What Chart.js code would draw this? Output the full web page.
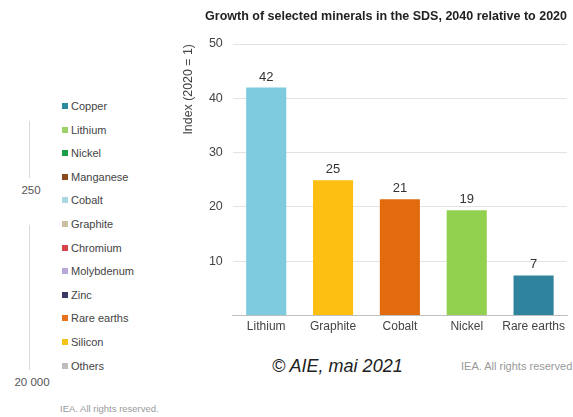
<!DOCTYPE html>
<html>
<head>
<meta charset="utf-8">
<script src="https://cdn.jsdelivr.net/npm/chart.js@4"></script>
<style>
  html, body { margin: 0; padding: 0; background: #fff; }
  body { width: 573px; height: 417px; position: relative; overflow: hidden; font-family: "Liberation Sans", Arial, sans-serif; }
  #wrap { position: absolute; left: 175px; top: 0; width: 398px; height: 344px; }
  .vline { position: absolute; left: 29px; width: 1px; background: #d9d9d9; }
  .axisnum { position: absolute; font-size: 11.5px; color: #555; transform: translateX(-50%); white-space: nowrap; }
  #legend { position: absolute; left: 62px; top: 99px; }
  .item { height: 23.6px; font-size: 11px; color: #444; line-height: 14px; white-space: nowrap; }
  .item span { display: inline-block; width: 6px; height: 6px; margin-right: 3px; vertical-align: 1px; }
  .note { position: absolute; color: #999; white-space: nowrap; }
  #copy { position: absolute; left: 272px; top: 356px; font-size: 18px; font-style: italic; color: #222; white-space: nowrap; }
</style>
</head>
<body>
<!-- bout de légende d'un autre graphique, à gauche -->
<div class="vline" style="top:121px;height:57px"></div>
<div class="axisnum" style="left:31px;top:184px">250</div>
<div class="vline" style="top:225px;height:145px"></div>
<div class="axisnum" style="left:32px;top:376px">20 000</div>
<div id="legend"></div>
<div class="note" style="left:60px;top:403px;font-size:9.5px">IEA. All rights reserved.</div>

<div id="wrap"><canvas id="chart"></canvas></div>

<div id="copy">© AIE, mai 2021</div>
<div class="note" style="left:461px;top:360px;font-size:11px">IEA. All rights reserved</div>

<script>
const legendNames = ['Copper', 'Lithium', 'Nickel', 'Manganese', 'Cobalt', 'Graphite', 'Chromium', 'Molybdenum', 'Zinc', 'Rare earths', 'Silicon', 'Others'];
const legendColors = ['#2a8a9e', '#9fd36a', '#1a9e4a', '#8b4a1c', '#a9d8e2', '#c9c0a2', '#d9434e', '#b8a8da', '#3b3a66', '#e8731e', '#f7c21a', '#bdbdbd'];

const minerals = ['Lithium', 'Graphite', 'Cobalt', 'Nickel', 'Rare earths'];
const growth = [42, 24.9, 21.4, 19.4, 7.4];
const barColors = ['#7ecbe0', '#fdbf12', '#e26b10', '#92d050', '#2f839c'];
const yTicks = [10, 20, 30, 40, 50];

// légende à gauche
const $legend = document.getElementById('legend');
legendNames.forEach((name, i) => {
  const div = document.createElement('div');
  div.className = 'item';
  div.innerHTML = `<span style="background:${legendColors[i]}"></span>${name}`;
  $legend.appendChild(div);
});

// étiquettes de valeur au-dessus des barres
const barValues = {
  id: 'barValues',
  afterDatasetsDraw(chart) {
    const ctx = chart.ctx;
    const meta = chart.getDatasetMeta(0);
    ctx.save();
    ctx.font = '13px "Liberation Sans", Arial, sans-serif';
    ctx.fillStyle = '#333';
    ctx.textAlign = 'center';
    ctx.textBaseline = 'bottom';
    meta.data.forEach((bar, i) => {
      ctx.fillText(Math.round(growth[i]), bar.x, bar.y - 4);
    });
    ctx.restore();
  }
};

Chart.defaults.font.family = '"Liberation Sans", Arial, sans-serif';

new Chart(document.getElementById('chart'), {
  type: 'bar',
  data: {
    labels: minerals,
    datasets: [{
      data: growth,
      backgroundColor: barColors,
      barPercentage: 0.75,
      categoryPercentage: 0.8
    }]
  },
  options: {
    responsive: true,
    maintainAspectRatio: false,
    animation: false,
    layout: { padding: { left: 6, right: 6, top: 0, bottom: 6 } },
    plugins: {
      legend: { display: false },
      tooltip: { enabled: false },
      title: {
        display: true,
        text: 'Growth of selected minerals in the SDS, 2040 relative to 2020',
        align: 'end',
        color: '#222',
        font: { size: 12.5, weight: 'bold' },
        padding: { top: 9, bottom: 20 }
      }
    },
    scales: {
      x: {
        grid: { display: false, drawTicks: false },
        border: { color: '#bfbfbf', width: 1 },
        ticks: { color: '#444', font: { size: 12 }, padding: 4, maxRotation: 0, minRotation: 0, autoSkip: false }
      },
      y: {
        min: 0,
        max: 50,
        afterBuildTicks(scale) {
          scale.ticks = [0].concat(yTicks).map(v => ({ value: v }));
        },
        grid: { color: '#e3e3e3', drawTicks: false },
        border: { display: false },
        ticks: {
          color: '#444',
          font: { size: 12.5 },
          padding: 10,
          callback: v => (v === 0 ? '' : v)
        },
        title: {
          display: true,
          text: 'Index (2020 = 1)',
          align: 'end',
          color: '#444',
          font: { size: 12.4 },
          padding: { top: 0, bottom: 3 }
        }
      }
    }
  },
  plugins: [barValues]
});
</script>
</body>
</html>
